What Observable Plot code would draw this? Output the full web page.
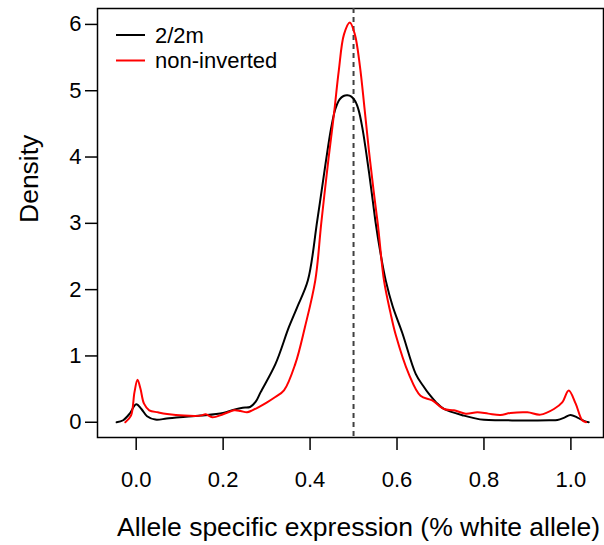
<!DOCTYPE html>
<html>
<head>
<meta charset="utf-8">
<script src="https://cdn.jsdelivr.net/npm/d3@7"></script>
<script src="https://cdn.jsdelivr.net/npm/@observablehq/plot@0.6"></script>
<style>
  html, body { margin: 0; padding: 0; background: #fff; }
  #wrap { position: relative; width: 604px; height: 545px; font-family: "Liberation Sans", Arial, Helvetica, sans-serif; }
  #legend { position: absolute; left: 0; top: 0; }
</style>
</head>
<body>
<div id="wrap"></div>
<script>
// ---- data ----
const seriesNames = ["2/2m", "non-inverted"];
const seriesColors = ["#000000", "#ff0000"];

const xBlack = [-0.045,-0.03,-0.015,0,0.012,0.025,0.044,0.07,0.1,0.148,0.2,0.225,0.245,0.262,0.275,0.286,0.3205,0.351,0.37,0.395,0.4165,0.4356,0.448,0.458,0.468,0.477,0.486,0.495,0.504,0.512,0.52,0.528,0.536,0.545,0.5506,0.562,0.574,0.59,0.612,0.643,0.66,0.673,0.69,0.708,0.754,0.8,0.85,0.9,0.95,0.969,0.985,0.999,1.015,1.03,1.041];
const yBlack = [0,0.03,0.13,0.27,0.2,0.09,0.04,0.055,0.075,0.10,0.14,0.19,0.22,0.23,0.31,0.45,0.88,1.43,1.73,2.14,3.04,3.9,4.42,4.72,4.87,4.92,4.93,4.91,4.84,4.7,4.45,4.12,3.75,3.3,3.02,2.55,2.14,1.75,1.35,0.73,0.55,0.43,0.3,0.2,0.10,0.036,0.03,0.025,0.03,0.035,0.07,0.11,0.07,0.02,0.0];

const xRed = [-0.025,-0.012,-0.004,0.003,0.01,0.018,0.03,0.05,0.071,0.11,0.148,0.16,0.175,0.20,0.225,0.24,0.255,0.267,0.285,0.301,0.32,0.34,0.366,0.388,0.412,0.4257,0.4425,0.455,0.466,0.478,0.4915,0.503,0.5145,0.525,0.535,0.546,0.556,0.570,0.585,0.597,0.627,0.654,0.681,0.708,0.731,0.758,0.785,0.81,0.838,0.861,0.90,0.93,0.961,0.98,0.995,1.011,1.026,1.035];
const yRed = [0,0.1,0.45,0.64,0.5,0.28,0.18,0.15,0.125,0.10,0.10,0.12,0.075,0.12,0.18,0.17,0.15,0.18,0.24,0.30,0.38,0.48,0.88,1.43,2.14,3.0,3.98,4.65,5.3,5.85,6.03,5.85,5.38,4.75,4.12,3.5,2.98,2.14,1.65,1.32,0.73,0.40,0.33,0.20,0.18,0.13,0.15,0.13,0.11,0.14,0.15,0.115,0.20,0.30,0.48,0.28,0.03,0.0];

const xTicks = [0, 0.2, 0.4, 0.6, 0.8, 1.0];
const yTicks = [0, 1, 2, 3, 4, 5, 6];
const refLine = [0.5];
const xTitle = "Allele specific expression (% white allele)";
const yTitle = "Density";

// ---- build ----
const black = xBlack.map((x, i) => ({x, y: yBlack[i]}));
const red = xRed.map((x, i) => ({x, y: yRed[i]}));
const font = '"Liberation Sans", Arial, Helvetica, sans-serif';

const chart = Plot.plot({
  width: 604,
  height: 545,
  marginLeft: 97,
  marginRight: 1,
  marginTop: 8,
  marginBottom: 108,
  style: {fontFamily: font, color: "#000", background: "#fff", overflow: "visible"},
  x: {domain: [-0.089, 1.075]},
  y: {domain: [-0.23, 6.24]},
  marks: [
    Plot.frame({stroke: "#000", strokeWidth: 1.5}),
    Plot.ruleX(refLine, {stroke: "#404040", strokeWidth: 2, strokeDasharray: "5,4"}),
    Plot.line(black, {x: "x", y: "y", stroke: seriesColors[0], strokeWidth: 2, curve: "catmull-rom"}),
    Plot.line(red, {x: "x", y: "y", stroke: seriesColors[1], strokeWidth: 2, curve: "catmull-rom"}),
    Plot.axisX({ticks: xTicks, tickSize: 13, tickPadding: 21, tickFormat: d3.format(".1f"), fontSize: 22, strokeWidth: 1.5, label: null}),
    Plot.axisY({ticks: yTicks, tickSize: 12, tickPadding: 4, tickFormat: d3.format("d"), fontSize: 22, strokeWidth: 1.5, label: null}),
    Plot.text([xTitle], {frameAnchor: "bottom", dx: 8, dy: 98, fontSize: 26.5, fill: "#000"}),
    Plot.text([yTitle], {frameAnchor: "left", dx: -68, rotate: -90, fontSize: 26.5, fill: "#000"})
  ]
});

const wrap = document.getElementById("wrap");
wrap.appendChild(chart);

// legend overlay
const leg = d3.select(wrap).append("svg").attr("id", "legend")
  .attr("width", 300).attr("height", 80)
  .style("font-family", font);
seriesNames.forEach((name, i) => {
  const cy = 35 + i * 25.5;
  leg.append("line").attr("x1", 116).attr("x2", 145).attr("y1", cy).attr("y2", cy)
    .attr("stroke", seriesColors[i]).attr("stroke-width", 2);
  leg.append("text").attr("x", 155).attr("y", cy).attr("dy", "0.35em")
    .attr("font-size", 22).attr("fill", "#000").text(name);
});
</script>
</body>
</html>
